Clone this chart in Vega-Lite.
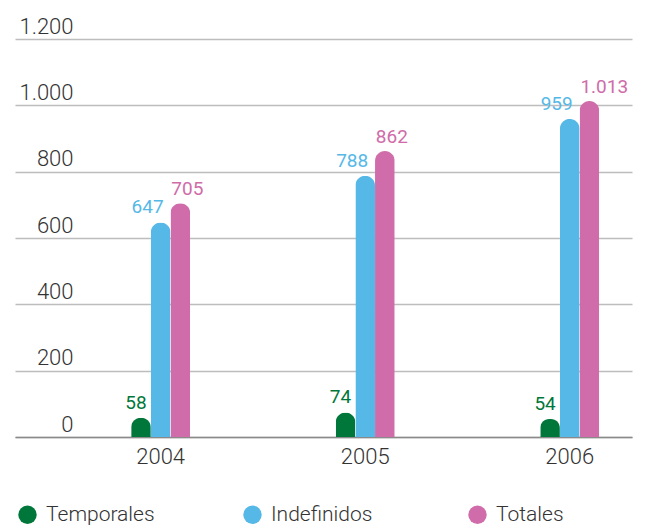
{
  "$schema": "https://vega.github.io/schema/vega-lite/v6.json",
  "autosize": "none",
  "width": 617,
  "height": 398,
  "padding": {"left": 15, "top": 39, "right": 16, "bottom": 92},
  "background": "white",
  "config": {
    "locale": {
      "number": {"decimal": ",", "thousands": ".", "grouping": [3], "currency": ["", " €"]}
    },
    "view": {"stroke": null},
    "font": "Roboto"
  },
  "data": {
    "values": [
      {"anio": "2004", "tipo": "Temporales", "valor": 58},
      {"anio": "2004", "tipo": "Indefinidos", "valor": 647},
      {"anio": "2004", "tipo": "Totales", "valor": 705},
      {"anio": "2005", "tipo": "Temporales", "valor": 74},
      {"anio": "2005", "tipo": "Indefinidos", "valor": 788},
      {"anio": "2005", "tipo": "Totales", "valor": 862},
      {"anio": "2006", "tipo": "Temporales", "valor": 54},
      {"anio": "2006", "tipo": "Indefinidos", "valor": 959},
      {"anio": "2006", "tipo": "Totales", "valor": 1013}
    ]
  },
  "encoding": {
    "x": {
      "field": "anio",
      "type": "nominal",
      "scale": {"paddingInner": 0.7115, "paddingOuter": 0.364, "align": 0.78},
      "axis": {
        "title": null,
        "labelAngle": 0,
        "labelFont": "Roboto",
        "labelFontWeight": 300,
        "labelFontSize": 22,
        "labelColor": "#333333",
        "labelPadding": 9,
        "ticks": false,
        "domainColor": "#8a8a8a",
        "domainWidth": 1.6
      }
    },
    "xOffset": {
      "field": "tipo",
      "type": "nominal",
      "sort": ["Temporales", "Indefinidos", "Totales"],
      "scale": {"paddingInner": 0, "paddingOuter": 0}
    },
    "y": {
      "field": "valor",
      "type": "quantitative",
      "scale": {"domain": [0, 1200], "nice": false},
      "axis": {
        "title": null,
        "values": [0, 200, 400, 600, 800, 1000, 1200],
        "format": ",d",
        "domain": false,
        "ticks": false,
        "tickSize": 0,
        "grid": true,
        "gridColor": "#bdbdbd",
        "gridWidth": 1.3,
        "labelFont": "Roboto",
        "labelFontWeight": 300,
        "labelFontSize": 22,
        "labelColor": "#333333",
        "labelAlign": "right",
        "labelBaseline": "alphabetic",
        "labelPadding": -58,
        "labelOffset": -6
      }
    }
  },
  "layer": [
    {
      "mark": {"type": "bar", "cornerRadiusTopLeft": 10, "cornerRadiusTopRight": 10},
      "encoding": {
        "color": {
          "field": "tipo",
          "type": "nominal",
          "sort": ["Temporales", "Indefinidos", "Totales"],
          "scale": {
            "domain": ["Temporales", "Indefinidos", "Totales"],
            "range": ["#00773a", "#56b8e6", "#cf6ca9"]
          },
          "legend": {
            "title": null,
            "orient": "none",
            "legendX": 2,
            "legendY": 465,
            "direction": "horizontal",
            "columns": 3,
            "gridAlign": "all",
            "columnPadding": 87,
            "padding": 0,
            "symbolType": "circle",
            "symbolSize": 340,
            "symbolStrokeWidth": 0,
            "labelFont": "Roboto",
            "labelFontWeight": 300,
            "labelFontSize": 21,
            "labelColor": "#333333",
            "labelOffset": 8
          }
        }
      }
    },
    {
      "transform": [{"filter": "datum.tipo === 'Temporales'"}],
      "mark": {"type": "text", "align": "center", "baseline": "alphabetic", "dx": -5, "dy": -9, "fontSize": 19, "fontWeight": 400, "color": "#00773a"},
      "encoding": {"text": {"field": "valor", "type": "quantitative", "format": ",d"}}
    },
    {
      "transform": [{"filter": "datum.tipo === 'Indefinidos'"}],
      "mark": {"type": "text", "align": "right", "baseline": "alphabetic", "dx": 3, "dy": -9, "fontSize": 19, "fontWeight": 400, "color": "#56b8e6"},
      "encoding": {"text": {"field": "valor", "type": "quantitative", "format": ",d"}}
    },
    {
      "transform": [{"filter": "datum.tipo === 'Totales'"}],
      "mark": {"type": "text", "align": "left", "baseline": "alphabetic", "dx": -9, "dy": -8, "fontSize": 19, "fontWeight": 400, "color": "#cf6ca9"},
      "encoding": {"text": {"field": "valor", "type": "quantitative", "format": ",d"}}
    }
  ]
}
